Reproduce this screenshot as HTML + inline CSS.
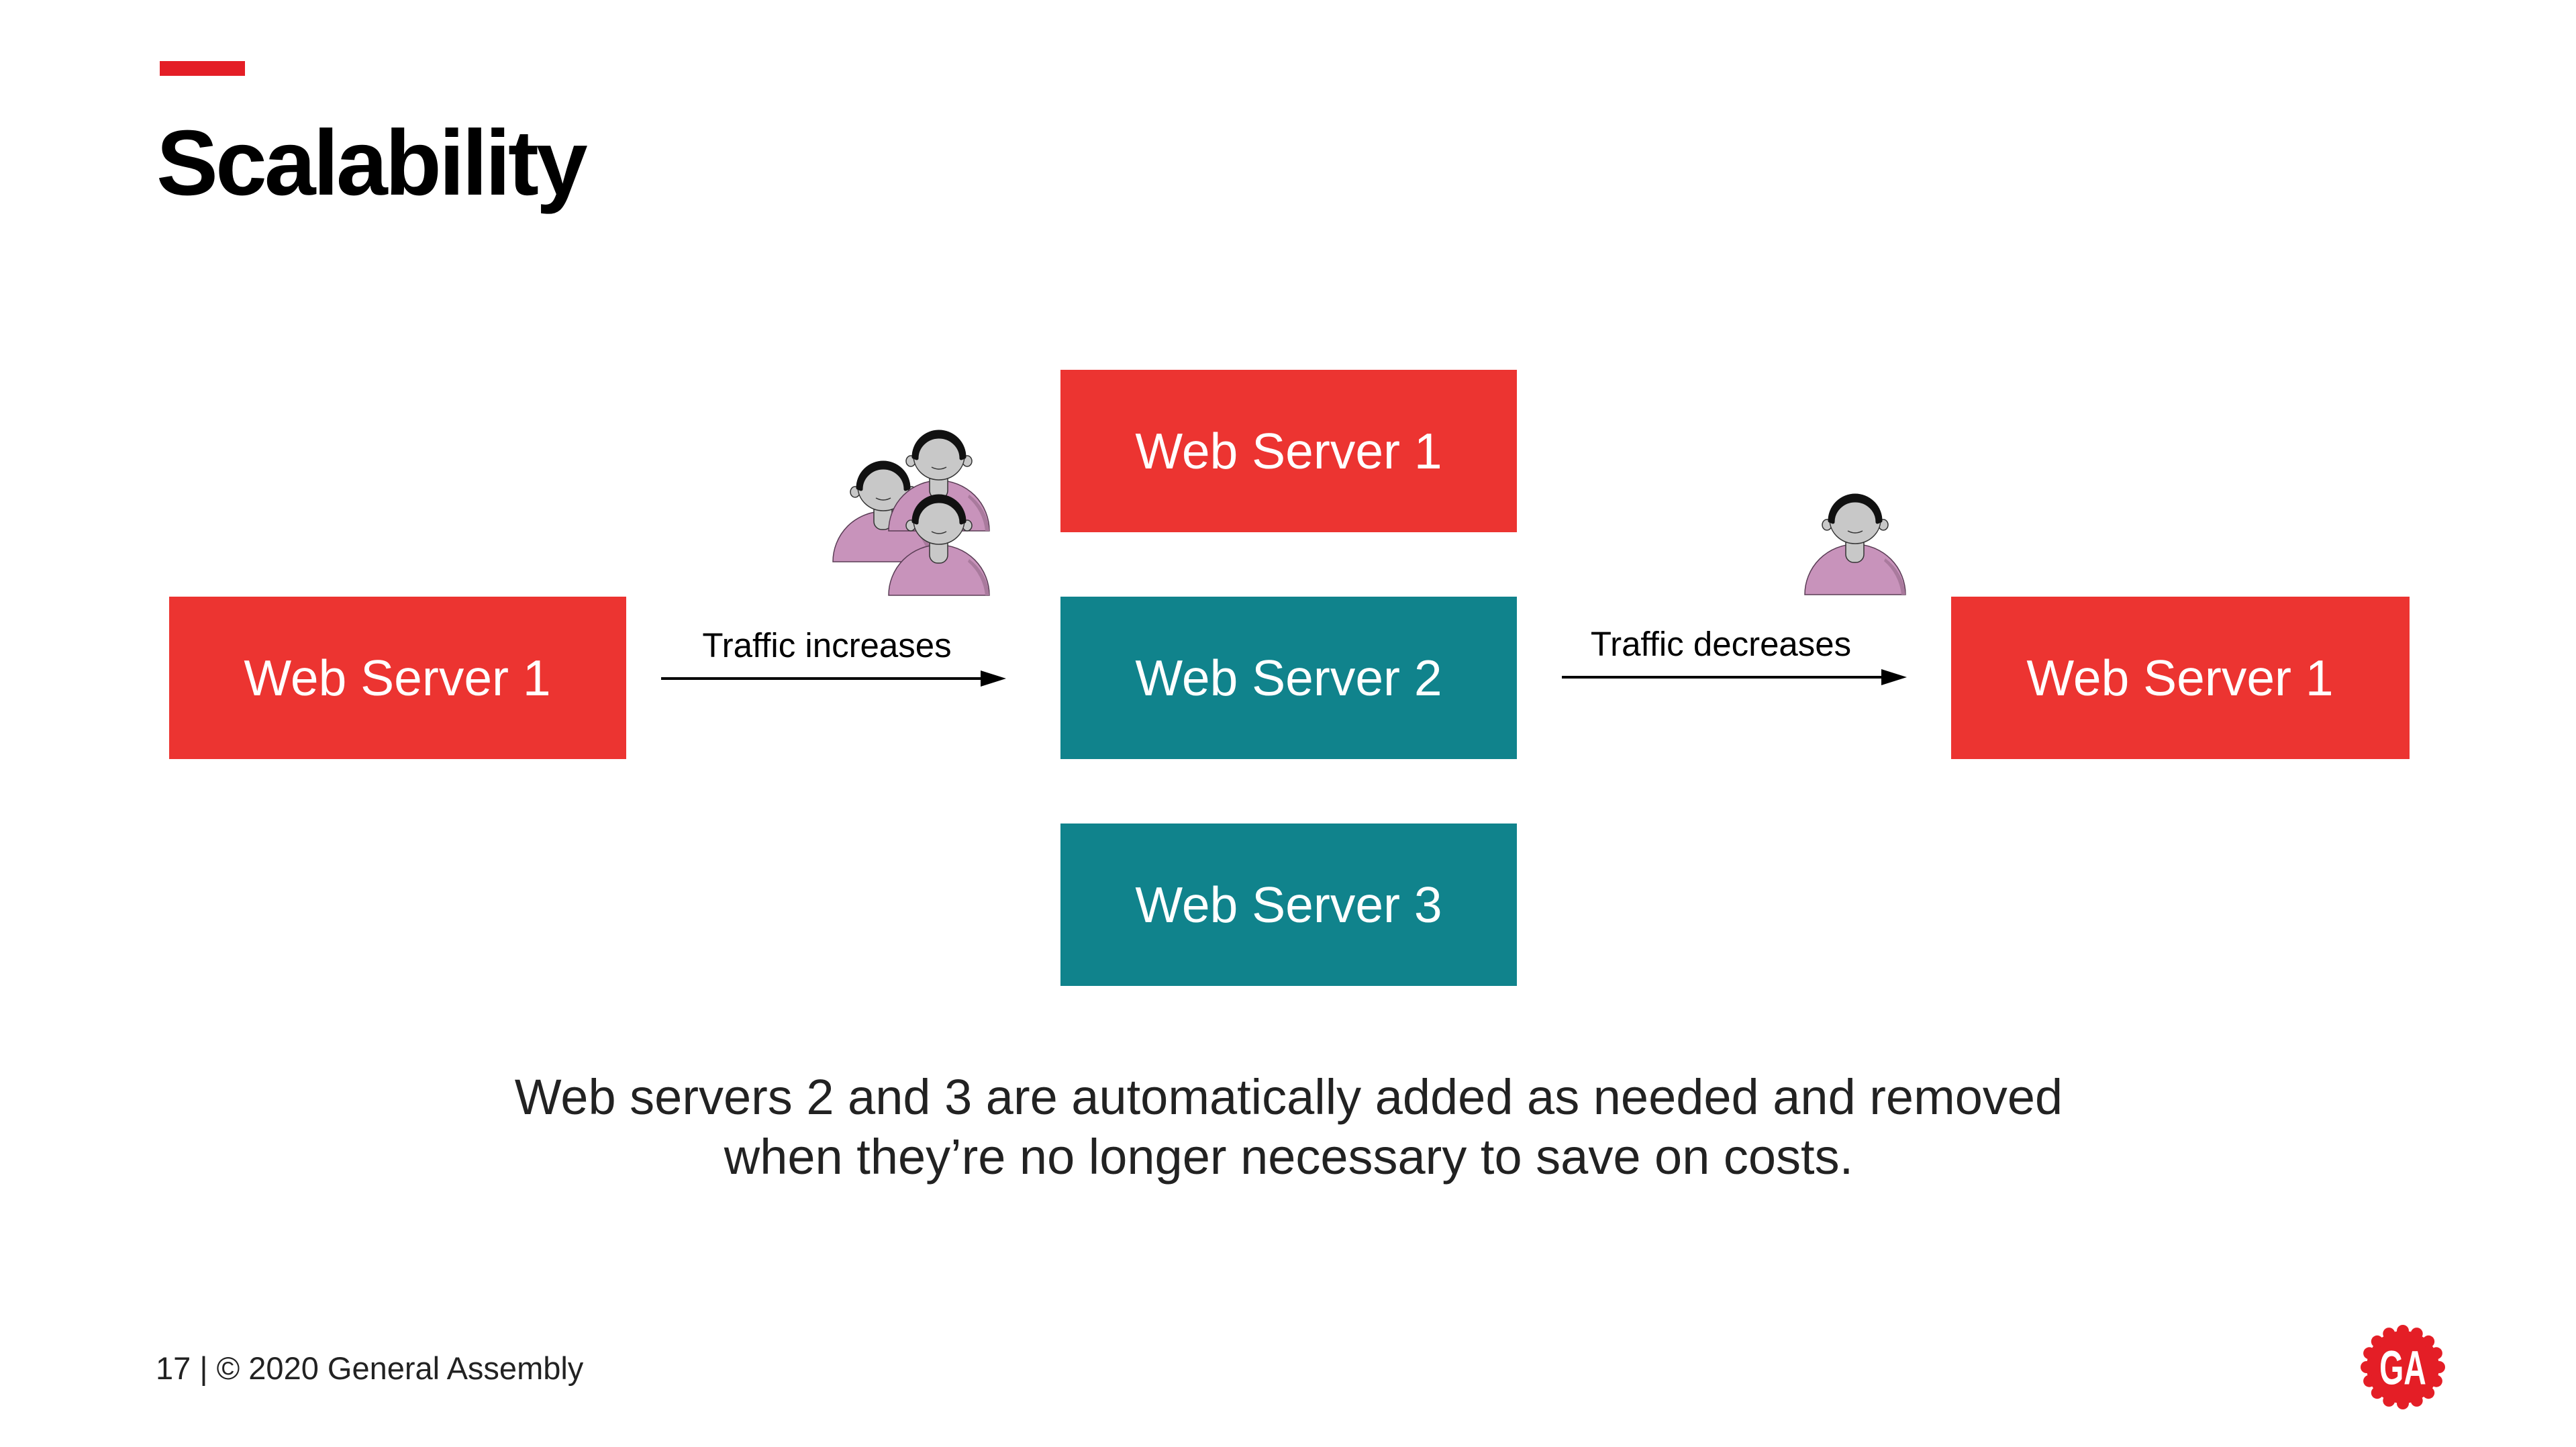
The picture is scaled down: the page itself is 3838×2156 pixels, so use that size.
<!DOCTYPE html>
<html><head><meta charset="utf-8"><style>
html,body{margin:0;padding:0;background:#fff;}
body{width:3838px;height:2156px;overflow:hidden;position:relative;font-family:"Liberation Sans",sans-serif;}
</style></head><body>
<svg width="3838" height="2156" viewBox="0 0 3838 2156" xmlns="http://www.w3.org/2000/svg" style="position:absolute;left:0;top:0">
<defs>
<g id="p">
  <path d="M0,154 A75,75 0 0 1 150,154 Z" fill="#C893BB" stroke="#5a3d55" stroke-width="1.5"/>
  <path d="M120,100 A75,75 0 0 1 150,154 L144,154 A72,75 0 0 0 118,104 Z" fill="#a97a9d"/>
  <rect x="61" y="58" width="27" height="48" rx="12" fill="#C8C8C8" stroke="#333" stroke-width="1.5"/>
  <ellipse cx="33" cy="50" rx="7" ry="8" fill="#C8C8C8" stroke="#333" stroke-width="1.5"/>
  <ellipse cx="117" cy="50" rx="7" ry="8" fill="#C8C8C8" stroke="#333" stroke-width="1.5"/>
  <ellipse cx="75" cy="42" rx="38" ry="36" fill="#C8C8C8" stroke="#333" stroke-width="1.5"/>
  <path d="M37,44 A38,38 0 0 1 113,44 L108,46 A33,32 0 0 0 42,46 Z" fill="#111" stroke="#111" stroke-width="5" stroke-linejoin="round"/>
  <path d="M64,59 Q75,65 86,59" fill="none" stroke="#333" stroke-width="1.5"/>
</g>
</defs>
<rect x="238" y="91" width="127" height="22" fill="#E41E26"/>
<text x="233" y="290" font-size="138" font-weight="bold" fill="#000" letter-spacing="-4">Scalability</text>

<rect x="252" y="889" width="681" height="242" fill="#EC3431"/>
<text x="592" y="1036" font-size="75" fill="#fff" text-anchor="middle">Web Server 1</text>

<rect x="1580" y="551" width="680" height="242" fill="#EC3431"/>
<text x="1920" y="698" font-size="75" fill="#fff" text-anchor="middle">Web Server 1</text>
<rect x="1580" y="889" width="680" height="242" fill="#10838C"/>
<text x="1920" y="1036" font-size="75" fill="#fff" text-anchor="middle">Web Server 2</text>
<rect x="1580" y="1227" width="680" height="242" fill="#10838C"/>
<text x="1920" y="1374" font-size="75" fill="#fff" text-anchor="middle">Web Server 3</text>

<rect x="2907" y="889" width="683" height="242" fill="#EC3431"/>
<text x="3248" y="1036" font-size="75" fill="#fff" text-anchor="middle">Web Server 1</text>

<line x1="985" y1="1011" x2="1465" y2="1011" stroke="#000" stroke-width="4"/>
<polygon points="1461,999 1499,1011 1461,1023" fill="#000"/>
<text x="1232" y="979" font-size="51" fill="#000" text-anchor="middle">Traffic increases</text>

<line x1="2327" y1="1009" x2="2807" y2="1009" stroke="#000" stroke-width="4"/>
<polygon points="2803,997 2841,1009 2803,1021" fill="#000"/>
<text x="2564" y="977" font-size="51" fill="#000" text-anchor="middle">Traffic decreases</text>

<use href="#p" x="1241" y="683"/>
<use href="#p" x="1324" y="637"/>
<use href="#p" x="1324" y="733"/>
<use href="#p" x="2689" y="732"/>

<text x="1920" y="1660" font-size="74" fill="#222" text-anchor="middle">Web servers 2 and 3 are automatically added as needed and removed</text>
<text x="1920" y="1749" font-size="74" fill="#222" text-anchor="middle">when they’re no longer necessary to save on costs.</text>

<text x="232" y="2055" font-size="47" fill="#222">17 | © 2020 General Assembly</text>

<g transform="translate(3580,2037)">
  <circle r="54" fill="#E41E26"/>
  <g fill="#E41E26">
    <circle r="9" cx="0" cy="-54"/><circle r="9" cx="0" cy="54"/><circle r="9" cx="54" cy="0"/><circle r="9" cx="-54" cy="0"/>
    <circle r="9" cx="38.2" cy="38.2"/><circle r="9" cx="-38.2" cy="38.2"/><circle r="9" cx="38.2" cy="-38.2"/><circle r="9" cx="-38.2" cy="-38.2"/>
    <circle r="9" cx="20.7" cy="49.9"/><circle r="9" cx="-20.7" cy="49.9"/><circle r="9" cx="20.7" cy="-49.9"/><circle r="9" cx="-20.7" cy="-49.9"/>
    <circle r="9" cx="49.9" cy="20.7"/><circle r="9" cx="-49.9" cy="20.7"/><circle r="9" cx="49.9" cy="-20.7"/><circle r="9" cx="-49.9" cy="-20.7"/>
  </g>
  <text x="0" y="22" font-size="62" font-weight="bold" fill="#fff" text-anchor="middle" transform="scale(0.75,1.15)">GA</text>
</g>
</svg>
</body></html>
